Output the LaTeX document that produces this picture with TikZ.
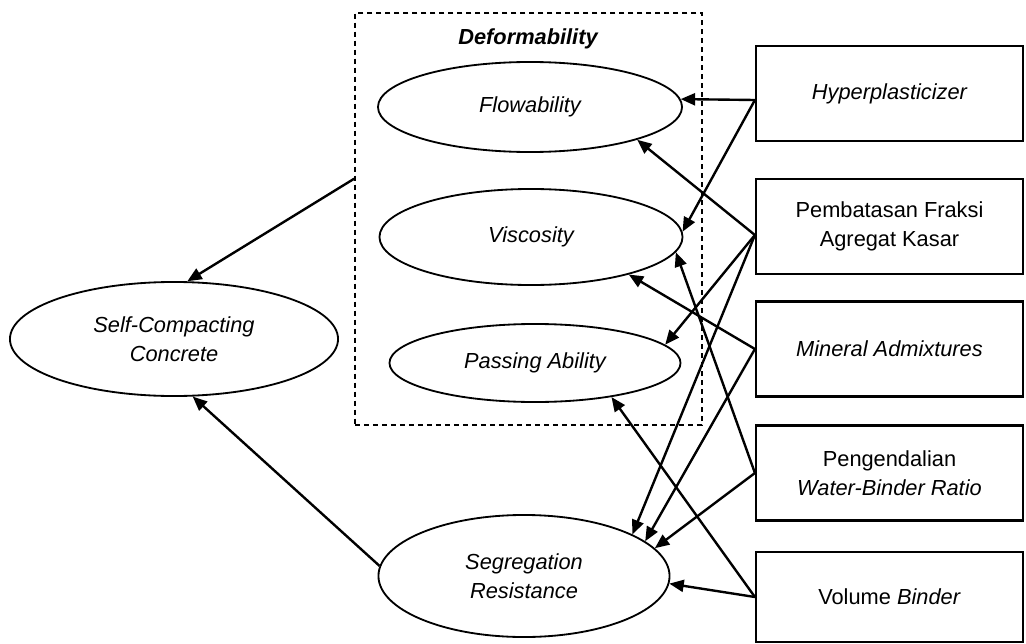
\documentclass[tikz,border=0pt]{standalone}
\usepackage{fontspec}
\setmainfont{Liberation Sans}
\usetikzlibrary{arrows.meta,shapes.geometric,calc}

\begin{document}
\begin{tikzpicture}[x=0.025cm,y=-0.025cm,>={Triangle[length=3.6mm,width=3mm]},
  prop/.style={draw,ellipse,line width=1.3pt,inner sep=0pt,align=center,font=\fontsize{15.5}{21}\selectfont\itshape},
  factor/.style={draw,rectangle,line width=1.5pt,minimum width=6.675cm,minimum height=2.375cm,align=center,font=\fontsize{15.5}{21}\selectfont},
  link/.style={->,line width=1.7pt}]
\useasboundingbox (0,0) rectangle (1026,644);
% deformability group
\node[draw,dash pattern=on 3.8pt off 2.6pt,line width=1.2pt,minimum width=8.675cm,minimum height=10.3cm] (def) at (528.5,219) {};
\node[font=\fontsize{15.5}{21}\selectfont\bfseries\itshape] (deflabel) at (528,39) {Deformability};
\node[prop,minimum width=7.6cm,minimum height=2.25cm] (flow) at (530,107) {Flowability};
\node[prop,minimum width=7.575cm,minimum height=2.4cm] (visc) at (531,237) {Viscosity};
\node[prop,minimum width=7.275cm,minimum height=1.95cm] (pass) at (535,363) {Passing Ability};
% main properties
\node[prop,minimum width=8.2cm,minimum height=2.85cm] (scc) at (174,339) {Self-Compacting\\Concrete};
\node[prop,minimum width=7.275cm,minimum height=3.05cm] (seg) at (524,576) {Segregation\\Resistance};
% factors
\node[factor] (hyp) at (889.5,93.5) {\itshape Hyperplasticizer};
\node[factor] (frak) at (889.5,226.5) {Pembatasan Fraksi\\Agregat Kasar};
\node[factor] (mine) at (889.5,349) {\itshape Mineral Admixtures};
\node[factor] (wbr) at (889.5,473) {Pengendalian\\\textit{Water-Binder Ratio}};
\node[factor,minimum height=2.25cm] (bind) at (889.5,597) {Volume \textit{Binder}};
\coordinate (hypout) at ($(hyp.west)+(0,6.5)$);
\coordinate (frakout) at ($(frak.west)+(0,8.5)$);
% links
\draw[link] (def.167) -- (scc.77);
\draw[link] (seg.176) -- (scc.-72);
\draw[link] (hypout) -- (flow.3);
\draw[link] (hypout) -- (visc.2);
\draw[link] (frakout) -- (flow.-17);
\draw[link] (frakout) -- (pass.8);
\draw[link] (frakout) -- (seg.21);
\draw[link] (mine.west) -- (visc.-21);
\draw[link] (mine.west) -- (seg.16);
\draw[link] (wbr.west) -- (visc.-6);
\draw[link] (wbr.west) -- (seg.12);
\draw[link] (bind.west) -- (pass.-24);
\draw[link] (bind.west) -- (seg.-3);
\end{tikzpicture}
\end{document}
